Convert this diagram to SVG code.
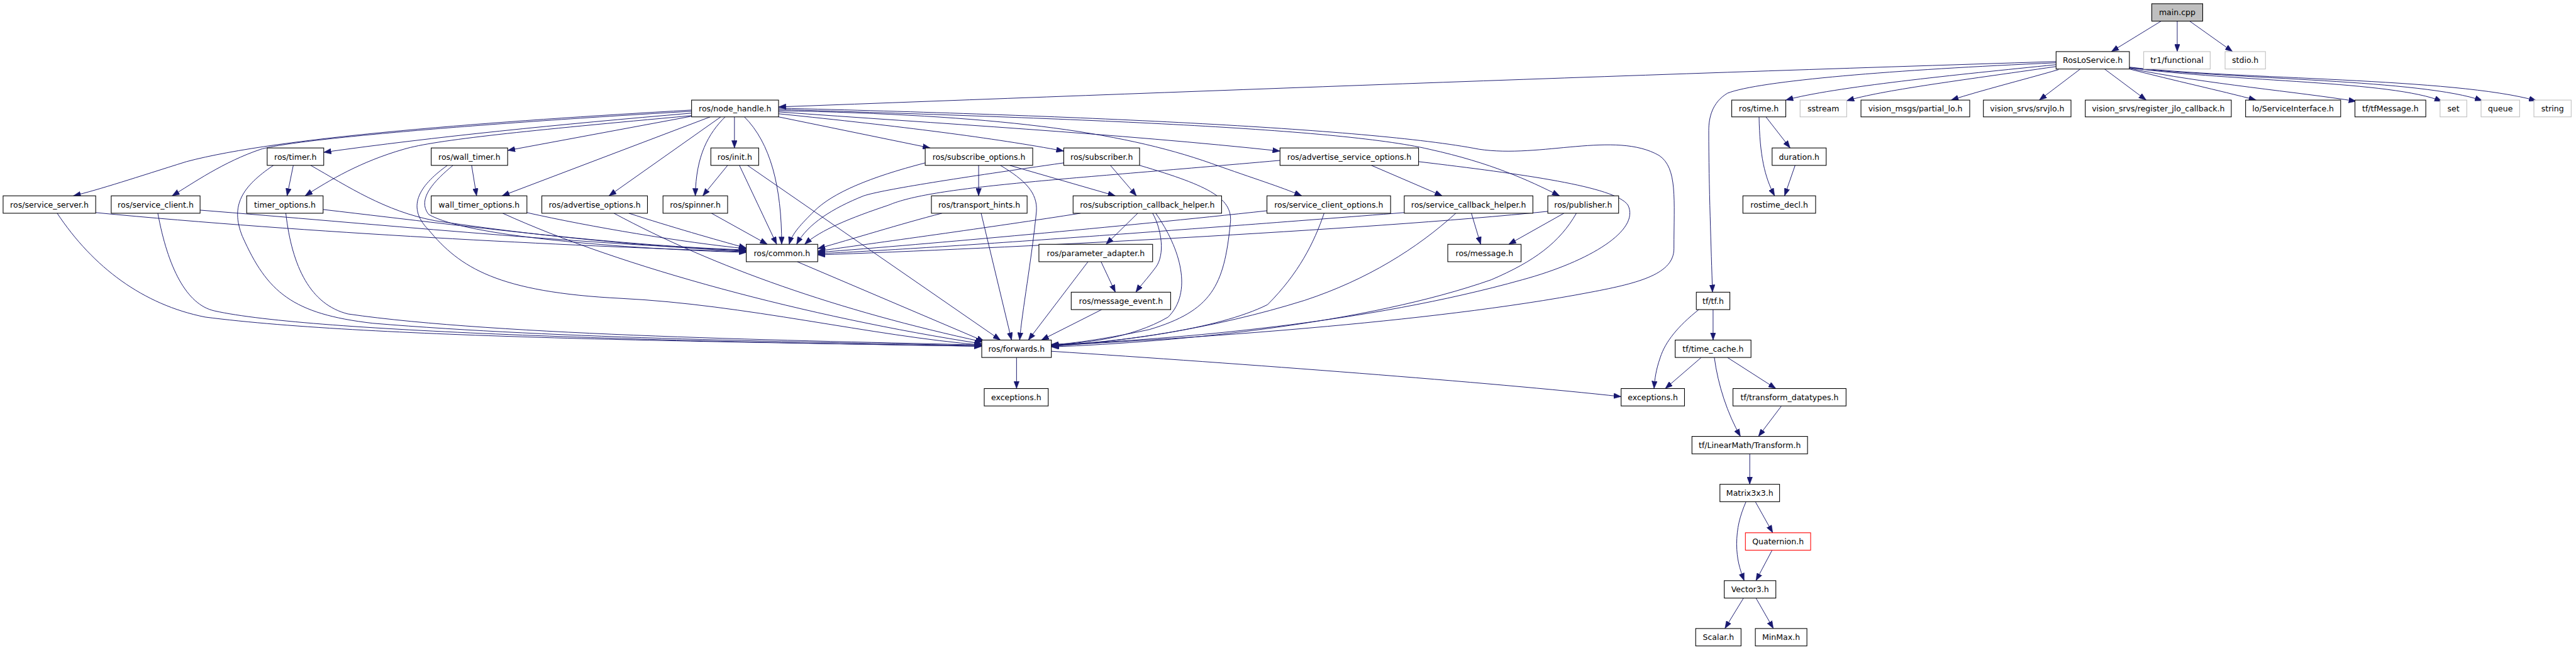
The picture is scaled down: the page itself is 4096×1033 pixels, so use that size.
<svg xmlns="http://www.w3.org/2000/svg" width="4096" height="1033" viewBox="0 0 4096 1033">
<style>
.n rect{fill:#ffffff;stroke:#000000;stroke-width:1.1}
.g rect{fill:#ffffff;stroke:#bfbfbf;stroke-width:1.1}
.r rect{fill:#ffffff;stroke:#ff0000;stroke-width:1.1}
.m rect{fill:#bfbfbf;stroke:#000000;stroke-width:1.1}
text{font-family:"DejaVu Sans","Liberation Sans",sans-serif;font-size:12.7px;fill:#000000;text-anchor:middle}
#edges path{fill:none;stroke:#191970;stroke-width:1;marker-end:url(#ah)}
</style>
<defs>
<marker id="ah" markerWidth="12" markerHeight="9" refX="12" refY="4.5" orient="auto" markerUnits="userSpaceOnUse"><path d="M0,0 L12,4.5 L0,9 z" fill="#191970" stroke="#191970" stroke-width="0.5"/></marker>
</defs>
<rect x="0" y="0" width="4096" height="1033" fill="#ffffff"/>
<g transform="scale(0.988)">
<g id="edges">
<path d="M3478,34 L3398,83"/>
<path d="M3504,34 L3504,83"/>
<path d="M3524,34 L3593,83"/>
<path d="M3309,99 C2600,121 1900,148 1253,172"/>
<path d="M3309,104 C3150,120 2950,140 2874,161"/>
<path d="M3309,107 C3150,130 3030,145 2972,162"/>
<path d="M3313,112 C3250,130 3190,145 3140,161"/>
<path d="M3348,111 L3282,161"/>
<path d="M3387,111 L3454,161"/>
<path d="M3427,111 C3500,130 3570,145 3631,161"/>
<path d="M3427,110 C3550,135 3700,148 3792,163"/>
<path d="M3427,109 C3600,132 3850,130 3930,163"/>
<path d="M3427,109 C3600,128 3900,128 3995,162"/>
<path d="M3427,108 C3600,128 3950,125 4082,162"/>
<path d="M3309,101 C3050,112 2830,130 2780,150 C2755,165 2750,190 2750,210 C2750,300 2754,400 2756,470"/>
<path d="M1113,177 C800,195 450,220 300,260 C220,285 160,305 118,315"/>
<path d="M1113,179 C750,200 470,225 420,240 C360,260 310,295 277,315"/>
<path d="M1113,182 C900,200 700,220 521,245"/>
<path d="M1113,186 C850,210 700,225 650,240 C580,260 530,290 491,315"/>
<path d="M1113,187 L817,242"/>
<path d="M1143,188 L808,315"/>
<path d="M1160,188 L980,315"/>
<path d="M1167,188 C1140,215 1120,250 1119,315"/>
<path d="M1182,188 L1182,238"/>
<path d="M1198,188 C1240,230 1258,300 1258,393"/>
<path d="M1253,188 L1497,238"/>
<path d="M1253,183 C1450,203 1600,222 1712,243"/>
<path d="M1253,180 C1500,198 1800,215 2060,243"/>
<path d="M1253,178 C1600,185 1800,210 1950,263 C2020,288 2060,300 2095,315"/>
<path d="M1253,176 C1700,190 2150,205 2300,240 C2400,262 2460,290 2510,315"/>
<path d="M1253,174 C1700,185 2200,205 2380,240 C2480,255 2600,210 2670,250 C2700,270 2694,320 2694,400 C2694,440 2640,455 2560,470 C2300,520 1900,545 1692,556"/>
<path d="M154,342 C500,375 900,395 1201,405"/>
<path d="M92,343 C150,430 230,490 330,510 C600,545 1200,550 1580,557"/>
<path d="M322,338 C600,360 900,390 1201,403"/>
<path d="M254,343 C270,430 300,490 345,500 C500,535 1100,550 1580,557"/>
<path d="M472,266 L462,315"/>
<path d="M500,266 C560,300 620,340 700,355 C900,385 1100,400 1201,404"/>
<path d="M440,266 C390,300 370,330 390,380 C430,470 470,505 600,520 C900,545 1300,550 1580,556"/>
<path d="M520,337 C800,370 1000,395 1201,402"/>
<path d="M460,343 C470,430 500,490 560,505 C800,540 1300,548 1580,555"/>
<path d="M759,266 L767,315"/>
<path d="M729,266 C700,290 670,320 690,345 C750,380 1000,400 1201,406"/>
<path d="M720,266 C680,295 650,330 690,370 C740,430 800,470 1000,480 C1200,490 1400,540 1580,555"/>
<path d="M848,342 C950,365 1100,390 1201,400"/>
<path d="M809,343 C1000,430 1300,510 1580,553"/>
<path d="M1012,343 C1080,365 1150,385 1201,399"/>
<path d="M988,343 C1150,430 1350,500 1582,550"/>
<path d="M1145,343 L1235,393"/>
<path d="M1171,266 L1131,315"/>
<path d="M1190,266 L1250,393"/>
<path d="M1203,266 L1610,547"/>
<path d="M1283,421 L1584,549"/>
<path d="M1575,266 L1575,315"/>
<path d="M1625,266 L1795,315"/>
<path d="M1610,266 C1650,290 1670,310 1668,340 C1660,420 1645,500 1641,547"/>
<path d="M1489,262 C1400,285 1340,310 1310,340 C1290,360 1275,375 1270,393"/>
<path d="M1787,266 L1829,315"/>
<path d="M1712,262 C1550,285 1420,305 1390,315 C1340,335 1300,360 1282,393"/>
<path d="M1834,266 C1950,300 1985,320 1980,360 C1970,460 1950,500 1850,530 C1780,545 1730,552 1692,555"/>
<path d="M2207,266 L2321,315"/>
<path d="M2060,258 C1700,290 1500,300 1430,330 C1370,350 1320,370 1295,393"/>
<path d="M2283,260 C2450,280 2600,300 2620,330 C2640,370 2560,420 2450,450 C2200,520 1900,545 1692,555"/>
<path d="M1516,343 C1450,360 1370,385 1316,400"/>
<path d="M1579,343 L1628,547"/>
<path d="M1831,343 L1780,393"/>
<path d="M1855,343 C1870,370 1875,410 1860,430 C1845,450 1835,460 1828,470"/>
<path d="M1860,343 C1900,400 1920,470 1880,510 C1820,545 1740,553 1692,554"/>
<path d="M1739,343 C1600,365 1400,392 1316,404"/>
<path d="M2039,339 C1800,365 1500,392 1316,406"/>
<path d="M2131,343 C2115,390 2090,440 2040,490 C1960,530 1800,550 1692,556"/>
<path d="M2368,343 L2383,393"/>
<path d="M2260,342 C1900,370 1500,400 1316,408"/>
<path d="M2343,343 C2280,400 2200,450 2100,483 C1950,530 1800,550 1692,557"/>
<path d="M2517,343 L2428,393"/>
<path d="M2491,340 C2200,370 1600,400 1316,410"/>
<path d="M2537,343 C2510,390 2470,420 2400,450 C2200,520 1900,550 1692,558"/>
<path d="M1772,421 L1795,470"/>
<path d="M1751,421 L1655,547"/>
<path d="M1773,498 L1676,547"/>
<path d="M1636,575 L1636,625"/>
<path d="M1692,565 C2000,585 2400,615 2609,638"/>
<path d="M2842,188 L2881,238"/>
<path d="M2831,188 C2832,250 2840,285 2856,315"/>
<path d="M2889,266 L2872,315"/>
<path d="M2734,498 C2700,525 2680,550 2672,575 C2665,595 2663,610 2662,625"/>
<path d="M2757,498 L2757,547"/>
<path d="M2738,575 L2680,625"/>
<path d="M2759,575 C2765,620 2780,665 2801,702"/>
<path d="M2780,575 L2858,625"/>
<path d="M2867,653 L2830,702"/>
<path d="M2816,730 L2816,779"/>
<path d="M2825,807 L2853,857"/>
<path d="M2810,807 C2800,830 2795,850 2795,875 C2795,900 2800,915 2807,934"/>
<path d="M2852,885 L2826,934"/>
<path d="M2806,962 L2776,1011"/>
<path d="M2826,962 L2854,1011"/>
</g>
<g id="n_main" class="m"><rect x="3463" y="6" width="82" height="28"/><text x="3504" y="24.6">main.cpp</text></g>
<g id="n_rosloservice" class="n"><rect x="3309" y="83" width="118" height="28"/><text x="3368" y="101.6">RosLoService.h</text></g>
<g id="n_tr1functional" class="g"><rect x="3450" y="83" width="107" height="28"/><text x="3503.5" y="101.6">tr1/functional</text></g>
<g id="n_stdio" class="g"><rect x="3581" y="83" width="65" height="28"/><text x="3613.5" y="101.6">stdio.h</text></g>
<g id="n_node_handle" class="n"><rect x="1113" y="161" width="140" height="27"/><text x="1183" y="179">ros/node_handle.h</text></g>
<g id="n_time" class="n"><rect x="2787" y="161" width="87" height="27"/><text x="2830.5" y="179">ros/time.h</text></g>
<g id="n_sstream" class="g"><rect x="2897" y="161" width="75" height="27"/><text x="2934.5" y="179">sstream</text></g>
<g id="n_partial_lo" class="n"><rect x="2995" y="161" width="175" height="27"/><text x="3082.5" y="179">vision_msgs/partial_lo.h</text></g>
<g id="n_srvjlo" class="n"><rect x="3192" y="161" width="141" height="27"/><text x="3262.5" y="179">vision_srvs/srvjlo.h</text></g>
<g id="n_register_jlo" class="n"><rect x="3356" y="161" width="235" height="27"/><text x="3473.5" y="179">vision_srvs/register_jlo_callback.h</text></g>
<g id="n_serviceinterface" class="n"><rect x="3614" y="161" width="153" height="27"/><text x="3690.5" y="179">lo/ServiceInterface.h</text></g>
<g id="n_tfmessage" class="n"><rect x="3790" y="161" width="114" height="27"/><text x="3847" y="179">tf/tfMessage.h</text></g>
<g id="n_set" class="g"><rect x="3927" y="161" width="43" height="27"/><text x="3948.5" y="179">set</text></g>
<g id="n_queue" class="g"><rect x="3993" y="161" width="62" height="27"/><text x="4024" y="179">queue</text></g>
<g id="n_string" class="g"><rect x="4078" y="161" width="60" height="27"/><text x="4108" y="179">string</text></g>
<g id="n_timer" class="n"><rect x="430" y="238" width="91" height="28"/><text x="475.5" y="256.6">ros/timer.h</text></g>
<g id="n_wall_timer" class="n"><rect x="694" y="238" width="123" height="28"/><text x="755.5" y="256.6">ros/wall_timer.h</text></g>
<g id="n_init" class="n"><rect x="1144" y="238" width="77" height="28"/><text x="1182.5" y="256.6">ros/init.h</text></g>
<g id="n_subscribe_options" class="n"><rect x="1489" y="238" width="173" height="28"/><text x="1575.5" y="256.6">ros/subscribe_options.h</text></g>
<g id="n_subscriber" class="n"><rect x="1712" y="238" width="122" height="28"/><text x="1773" y="256.6">ros/subscriber.h</text></g>
<g id="n_advertise_service_options" class="n"><rect x="2060" y="238" width="223" height="28"/><text x="2171.5" y="256.6">ros/advertise_service_options.h</text></g>
<g id="n_duration" class="n"><rect x="2852" y="238" width="87" height="28"/><text x="2895.5" y="256.6">duration.h</text></g>
<g id="n_service_server" class="n"><rect x="5" y="315" width="149" height="28"/><text x="79.5" y="333.6">ros/service_server.h</text></g>
<g id="n_service_client" class="n"><rect x="179" y="315" width="143" height="28"/><text x="250.5" y="333.6">ros/service_client.h</text></g>
<g id="n_timer_options" class="n"><rect x="397" y="315" width="123" height="28"/><text x="458.5" y="333.6">timer_options.h</text></g>
<g id="n_wall_timer_options" class="n"><rect x="694" y="315" width="154" height="28"/><text x="771" y="333.6">wall_timer_options.h</text></g>
<g id="n_advertise_options" class="n"><rect x="872" y="315" width="170" height="28"/><text x="957" y="333.6">ros/advertise_options.h</text></g>
<g id="n_spinner" class="n"><rect x="1067" y="315" width="104" height="28"/><text x="1119" y="333.6">ros/spinner.h</text></g>
<g id="n_transport_hints" class="n"><rect x="1499" y="315" width="154" height="28"/><text x="1576" y="333.6">ros/transport_hints.h</text></g>
<g id="n_subscription_callback_helper" class="n"><rect x="1727" y="315" width="239" height="28"/><text x="1846.5" y="333.6">ros/subscription_callback_helper.h</text></g>
<g id="n_service_client_options" class="n"><rect x="2039" y="315" width="199" height="28"/><text x="2138.5" y="333.6">ros/service_client_options.h</text></g>
<g id="n_service_callback_helper" class="n"><rect x="2260" y="315" width="207" height="28"/><text x="2363.5" y="333.6">ros/service_callback_helper.h</text></g>
<g id="n_publisher" class="n"><rect x="2491" y="315" width="114" height="28"/><text x="2548" y="333.6">ros/publisher.h</text></g>
<g id="n_rostime_decl" class="n"><rect x="2805" y="315" width="117" height="28"/><text x="2863.5" y="333.6">rostime_decl.h</text></g>
<g id="n_common" class="n"><rect x="1201" y="393" width="115" height="28"/><text x="1258.5" y="411.6">ros/common.h</text></g>
<g id="n_parameter_adapter" class="n"><rect x="1672" y="393" width="183" height="28"/><text x="1763.5" y="411.6">ros/parameter_adapter.h</text></g>
<g id="n_message" class="n"><rect x="2330" y="393" width="118" height="28"/><text x="2389" y="411.6">ros/message.h</text></g>
<g id="n_message_event" class="n"><rect x="1724" y="470" width="160" height="28"/><text x="1804" y="488.6">ros/message_event.h</text></g>
<g id="n_tf" class="n"><rect x="2730" y="470" width="54" height="28"/><text x="2757" y="488.6">tf/tf.h</text></g>
<g id="n_forwards" class="n"><rect x="1580" y="547" width="112" height="28"/><text x="1636" y="565.6">ros/forwards.h</text></g>
<g id="n_time_cache" class="n"><rect x="2696" y="547" width="122" height="28"/><text x="2757" y="565.6">tf/time_cache.h</text></g>
<g id="n_exceptions_ros" class="n"><rect x="1584" y="625" width="103" height="28"/><text x="1635.5" y="643.6">exceptions.h</text></g>
<g id="n_exceptions_tf" class="n"><rect x="2609" y="625" width="102" height="28"/><text x="2660" y="643.6">exceptions.h</text></g>
<g id="n_transform_datatypes" class="n"><rect x="2789" y="625" width="182" height="28"/><text x="2880" y="643.6">tf/transform_datatypes.h</text></g>
<g id="n_transform" class="n"><rect x="2723" y="702" width="186" height="28"/><text x="2816" y="720.6">tf/LinearMath/Transform.h</text></g>
<g id="n_matrix3x3" class="n"><rect x="2768" y="779" width="96" height="28"/><text x="2816" y="797.6">Matrix3x3.h</text></g>
<g id="n_quaternion" class="r"><rect x="2809" y="857" width="105" height="28"/><text x="2861.5" y="875.6">Quaternion.h</text></g>
<g id="n_vector3" class="n"><rect x="2775" y="934" width="83" height="28"/><text x="2816.5" y="952.6">Vector3.h</text></g>
<g id="n_scalar" class="n"><rect x="2729" y="1011" width="73" height="28"/><text x="2765.5" y="1029.6">Scalar.h</text></g>
<g id="n_minmax" class="n"><rect x="2825" y="1011" width="83" height="28"/><text x="2866.5" y="1029.6">MinMax.h</text></g>
</g>
</svg>
